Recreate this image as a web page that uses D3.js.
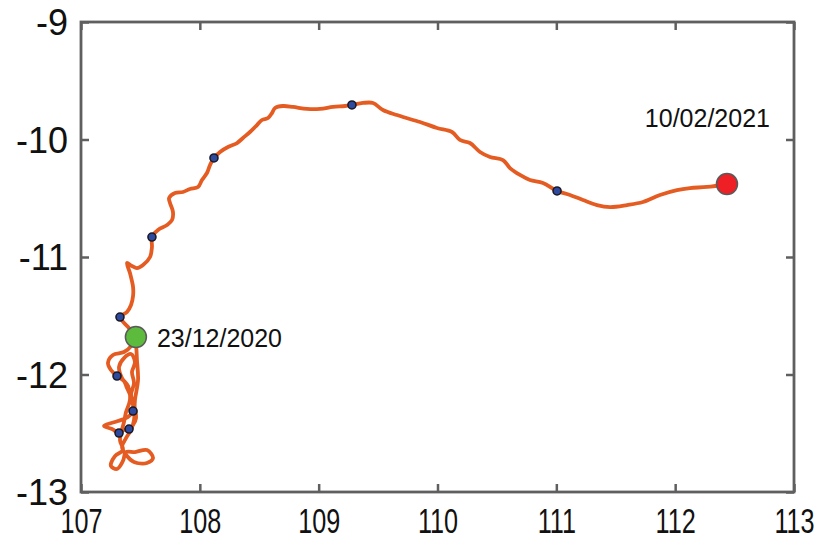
<!DOCTYPE html>
<html>
<head>
<meta charset="utf-8">
<script src="https://cdn.jsdelivr.net/npm/d3@7"></script>
<style>
  html, body { margin: 0; padding: 0; background: #ffffff; }
  svg { display: block; }
</style>
</head>
<body>
<svg id="chart" width="818" height="543"></svg>
<script>
// ---- Data (longitude / latitude of the drifter track) ----
const trackLon = [107.454,107.421,107.362,107.269,107.227,107.252,107.303,107.362,107.387,107.421,
  107.438,107.438,107.396,107.311,107.194,107.261,107.320,107.362,107.404,107.438,
  107.463,107.446,107.421,107.446,107.429,107.454,107.421,107.362,107.320,107.345,
  107.396,107.412,107.379,107.362,107.328,107.353,107.286,107.252,107.303,107.353,
  107.379,107.454,107.555,107.606,107.555,107.446,107.387,107.345,107.379,107.421,
  107.446,107.454,107.480,107.471,107.463,107.446,107.396,107.328,107.387,107.421,
  107.438,107.438,107.412,107.387,107.429,107.471,107.522,107.581,107.597,107.597,
  107.648,107.724,107.766,107.774,107.749,107.741,107.791,107.858,107.917,107.985,
  108.018,108.060,108.086,108.119,108.170,108.237,108.313,108.363,108.422,108.481,
  108.523,108.574,108.607,108.633,108.700,108.784,108.902,109.011,109.121,109.222,
  109.280,109.373,109.457,109.541,109.659,109.710,109.853,109.996,110.122,110.189,
  110.273,110.358,110.442,110.551,110.610,110.694,110.778,110.888,111.006,111.115,
  111.224,111.342,111.452,111.595,111.729,111.872,112.015,112.125,112.268,112.436];
const trackLat = [-11.681,-11.758,-11.809,-11.834,-11.902,-11.962,-12.013,-12.055,-12.115,-12.192,
  -12.260,-12.311,-12.362,-12.396,-12.438,-12.464,-12.498,-12.472,-12.464,-12.430,
  -12.370,-12.260,-12.175,-12.072,-11.979,-11.894,-11.826,-11.860,-11.936,-12.030,
  -12.098,-12.217,-12.319,-12.404,-12.558,-12.643,-12.694,-12.779,-12.804,-12.736,
  -12.660,-12.660,-12.643,-12.711,-12.753,-12.745,-12.694,-12.617,-12.541,-12.472,
  -12.387,-12.217,-12.047,-11.877,-11.749,-11.664,-11.596,-11.511,-11.468,-11.409,
  -11.332,-11.255,-11.136,-11.051,-11.077,-11.094,-11.068,-11.000,-10.915,-10.830,
  -10.770,-10.728,-10.685,-10.617,-10.540,-10.498,-10.455,-10.447,-10.421,-10.404,
  -10.345,-10.285,-10.217,-10.157,-10.106,-10.064,-10.030,-9.987,-9.936,-9.877,
  -9.834,-9.817,-9.775,-9.732,-9.715,-9.723,-9.740,-9.740,-9.723,-9.715,
  -9.706,-9.689,-9.689,-9.749,-9.792,-9.809,-9.851,-9.902,-9.936,-10.004,
  -10.030,-10.106,-10.149,-10.175,-10.243,-10.302,-10.345,-10.370,-10.438,-10.472,
  -10.515,-10.558,-10.575,-10.558,-10.532,-10.472,-10.430,-10.413,-10.404,-10.379];

// periodic position markers
const markerLon = [107.303,107.438,107.320,107.404,107.328,107.597,108.119,109.280,111.006];
const markerLat = [-12.013,-12.311,-12.498,-12.464,-11.511,-10.830,-10.157,-9.706,-10.438];

// start / end
const startPoint = {lon: 107.462, lat: -11.681, label: "23/12/2020"};
const endPoint   = {lon: 112.436, lat: -10.379, label: "10/02/2021"};

const xTicks = [107, 108, 109, 110, 111, 112, 113];
const yTicks = [-9, -10, -11, -12, -13];
const xTickLabels = ["107", "108", "109", "110", "111", "112", "113"];
const yTickLabels = ["-9", "-10", "-11", "-12", "-13"];

// ---- Layout ----
const svg = d3.select("#chart");
const mLeft = 81, mRight = 794, mTop = 22, mBottom = 492;
const x = d3.scaleLinear().domain([107, 113]).range([mLeft, mRight]);
const y = d3.scaleLinear().domain([-13, -9]).range([mBottom, mTop]);

const axisColor = "#5f5f5f";
const tickFont = "'Liberation Sans', Arial, sans-serif";

// box
svg.append("rect")
  .attr("x", mLeft).attr("y", mTop)
  .attr("width", mRight - mLeft).attr("height", mBottom - mTop)
  .attr("fill", "none").attr("stroke", axisColor).attr("stroke-width", 2.8);

// bottom axis
const gx = svg.append("g").attr("transform", `translate(0,${mBottom})`)
  .call(d3.axisBottom(x).tickValues(xTicks).tickSizeInner(-8).tickSizeOuter(0).tickPadding(16)
    .tickFormat((d, i) => xTickLabels[i]));
// top axis
const gxt = svg.append("g").attr("transform", `translate(0,${mTop})`)
  .call(d3.axisTop(x).tickValues(xTicks).tickSizeInner(-8).tickSizeOuter(0).tickFormat(""));
// left axis
const gy = svg.append("g").attr("transform", `translate(${mLeft},0)`)
  .call(d3.axisLeft(y).tickValues(yTicks).tickSizeInner(-8).tickSizeOuter(0).tickPadding(13)
    .tickFormat((d, i) => yTickLabels[i]));
// right axis
const gyr = svg.append("g").attr("transform", `translate(${mRight},0)`)
  .call(d3.axisRight(y).tickValues(yTicks).tickSizeInner(-8).tickSizeOuter(0).tickFormat(""));

[gx, gxt, gy, gyr].forEach(g => {
  g.select(".domain").remove();
  g.selectAll(".tick line").attr("stroke", axisColor).attr("stroke-width", 2.5);
});

gx.selectAll(".tick text")
  .attr("font-family", tickFont).attr("font-size", 35).attr("fill", "#111")
  .attr("dy", "0.71em")
  .each(function() {
    const t = d3.select(this);
    const yy = +t.attr("y");
    t.attr("y", 0).attr("transform", `translate(0,${yy}) scale(0.72,1)`);
  });

gy.selectAll(".tick text")
  .attr("font-family", tickFont).attr("font-size", 36).attr("fill", "#111")
  .attr("dy", "0.36em");

// ---- Track ----
const pts = trackLon.map((lon, i) => [lon, trackLat[i]]);
const line = d3.line().x(d => x(d[0])).y(d => y(d[1])).curve(d3.curveCatmullRom.alpha(0.5));

svg.append("path").datum(pts)
  .attr("d", line)
  .attr("fill", "none")
  .attr("stroke", "#e55c22")
  .attr("stroke-width", 3.8)
  .attr("stroke-linejoin", "round")
  .attr("stroke-linecap", "round");

// markers
svg.append("g").selectAll("circle")
  .data(markerLon.map((lon, i) => [lon, markerLat[i]]))
  .join("circle")
  .attr("cx", d => x(d[0])).attr("cy", d => y(d[1]))
  .attr("r", 4)
  .attr("fill", "#2e4a9e").attr("stroke", "#1a1a26").attr("stroke-width", 1.6);

// start (green)
svg.append("circle")
  .attr("cx", x(startPoint.lon)).attr("cy", y(startPoint.lat))
  .attr("r", 10.5).attr("fill", "#5cbb3c").attr("stroke", "#5a5a5a").attr("stroke-width", 1.5);
svg.append("text")
  .attr("x", x(startPoint.lon) + 21).attr("y", y(startPoint.lat) + 10)
  .attr("font-family", tickFont).attr("font-size", 25).attr("fill", "#111")
  .text(startPoint.label);

// end (red)
svg.append("circle")
  .attr("cx", x(endPoint.lon)).attr("cy", y(endPoint.lat))
  .attr("r", 10.5).attr("fill", "#ee1f25").attr("stroke", "#5a5a5a").attr("stroke-width", 1.5);
svg.append("text")
  .attr("x", x(endPoint.lon) + 43).attr("y", y(endPoint.lat) - 57)
  .attr("text-anchor", "end")
  .attr("font-family", tickFont).attr("font-size", 25).attr("fill", "#111")
  .text(endPoint.label);
</script>
</body>
</html>
